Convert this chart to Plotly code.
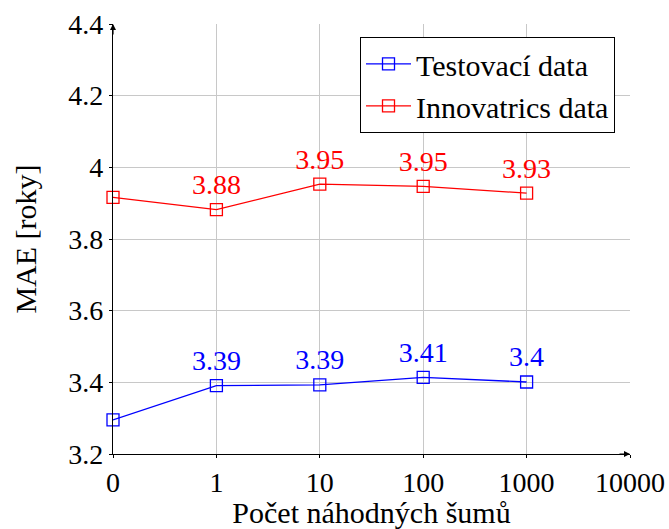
import plotly.graph_objects as go

x_labels = ["0", "1", "10", "100", "1000", "10000"]
x_pos = [0, 1, 2, 3, 4]
test_vals = [3.295, 3.391, 3.393, 3.414, 3.401]
test_text = ["", "3.39", "3.39", "3.41", "3.4"]
inno_vals = [3.916, 3.882, 3.953, 3.947, 3.928]
inno_text = ["", "3.88", "3.95", "3.95", "3.93"]
y_ticks = [3.2, 3.4, 3.6, 3.8, 4.0, 4.2, 4.4]
y_ticktext = ["3.2", "3.4", "3.6", "3.8", "4", "4.2", "4.4"]

FONT = "Liberation Serif, Times New Roman, DejaVu Serif, serif"
TICK_FS = 28
LBL_FS = 28
TXT_FS = 30

fig = go.Figure()
for name, vals, txt, col in [("Testovací data", test_vals, test_text, "#0000ff"),
                             ("Innovatrics data", inno_vals, inno_text, "#ff0000")]:
    fig.add_trace(go.Scatter(
        x=x_pos, y=vals, name=name, mode="lines+markers+text",
        text=txt, textposition="top center",
        textfont=dict(family=FONT, size=LBL_FS, color=col),
        line=dict(color=col, width=1.3),
        marker=dict(symbol="square-open", size=12, color=col, line=dict(width=1.3)),
        cliponaxis=False,
    ))

fig.update_layout(
    width=669, height=529,
    margin=dict(l=113, r=39, t=24, b=75, autoexpand=False),
    paper_bgcolor="white", plot_bgcolor="white",
    font=dict(family=FONT, size=TICK_FS, color="black"),
    showlegend=True,
    legend=dict(x=0.971, y=0.97, xanchor="right", yanchor="top",
                bordercolor="black", borderwidth=1, bgcolor="white",
                font=dict(family=FONT, size=TXT_FS, color="black"),
                tracegroupgap=0, itemwidth=45),
    xaxis=dict(range=[0, 5], tickvals=list(range(len(x_labels))), ticktext=x_labels,
               automargin=False,
               showgrid=True, gridcolor="#c8c8c8", gridwidth=1,
               showline=True, linecolor="black", linewidth=1.2,
               ticks="outside", ticklen=3, tickcolor="black",
               zeroline=False, mirror=False,
               title=dict(text="Počet náhodných šumů", standoff=14,
                          font=dict(family=FONT, size=TXT_FS))),
    yaxis=dict(range=[3.2, 4.4], tickvals=y_ticks, ticktext=y_ticktext,
               automargin=False,
               showgrid=True, gridcolor="#c8c8c8", gridwidth=1,
               showline=True, linecolor="black", linewidth=1.2,
               ticks="outside", ticklen=3, tickcolor="black",
               zeroline=False,
               title=dict(text="MAE [roky]", standoff=22,
                          font=dict(family=FONT, size=TXT_FS))),
)

# axis arrows
fig.add_annotation(xref="paper", yref="paper", x=1, y=0, ax=-12, ay=0,
                   axref="pixel", ayref="pixel", showarrow=True, arrowhead=2,
                   arrowsize=1, arrowwidth=1.2, arrowcolor="black", text="")
fig.add_annotation(xref="paper", yref="paper", x=0, y=1, ax=0, ay=12,
                   axref="pixel", ayref="pixel", showarrow=True, arrowhead=2,
                   arrowsize=1, arrowwidth=1.2, arrowcolor="black", text="")

fig.write_html("out.html")
